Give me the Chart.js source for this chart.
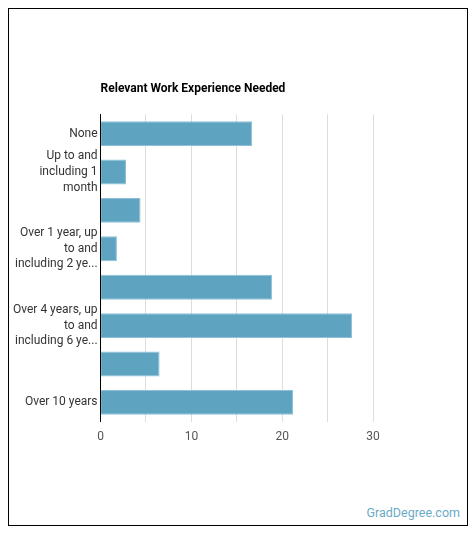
<!DOCTYPE html>
<html>
<head>
<meta charset="utf-8">
<script src="https://cdn.jsdelivr.net/npm/chart.js@4/dist/chart.umd.min.js"></script>
<style>
  body { margin: 8px; background: #fff; font-family: Roboto, sans-serif; }
  #box { position: relative; width: 460px; height: 518px; border: 1px solid #000; box-sizing: border-box; }
  #chartWrap { position: absolute; left: 0; top: 0; width: 458px; height: 443px; }
  #brand { position: absolute; right: 7px; bottom: 5px; font-size: 12.5px; color: #6aaac8; }
</style>
</head>
<body>
<div id="box">
  <div id="chartWrap"><canvas id="grafico"></canvas></div>
  <div id="brand">GradDegree.com</div>
</div>
<script>
// categorias (rótulos do eixo Y, algumas ficam em branco como no original)
const categorias = [
  'None',
  ['Up to and', 'including 1', 'month'],
  '',
  ['Over 1 year, up', 'to and', 'including 2 ye...'],
  '',
  ['Over 4 years, up', 'to and', 'including 6 ye...'],
  '',
  'Over 10 years'
];
// percentual de trabalhadores
const valores = [16.7, 2.8, 4.4, 1.8, 18.9, 27.7, 6.5, 21.2];
// rótulos do eixo X
const ticksX = [0, 10, 20, 30];

const ctx = document.getElementById('grafico').getContext('2d');

const config = {
  type: 'bar',
  data: {
    labels: categorias,
    datasets: [{
      data: valores,
      backgroundColor: '#5ea3c0',
      borderColor: '#8cc0d6',
      borderWidth: 1,
      barPercentage: 0.81,
      categoryPercentage: 0.8
    }]
  },
  options: {
    indexAxis: 'y',
    responsive: true,
    maintainAspectRatio: false,
    animation: false,
    layout: { padding: { left: 1, right: 94, top: 73, bottom: 0 } },
    scales: {
      x: {
        min: 0,
        max: 30,
        ticks: {
          stepSize: 5,
          color: '#555',
          padding: 8,
          font: { family: 'Roboto', size: 12 },
          callback: function(v) { return ticksX.includes(v) ? v : ''; }
        },
        grid: { color: '#dddddd', drawTicks: false },
        border: { display: false }
      },
      y: {
        ticks: { color: '#333', font: { family: 'Roboto', size: 12, lineHeight: 1.3 }, autoSkip: false },
        grid: { display: false, drawTicks: false },
        border: { display: true, color: '#000', width: 1 }
      }
    },
    plugins: {
      legend: { display: false },
      title: {
        display: true,
        text: 'Relevant Work Experience Needed',
        align: 'start',
        fullSize: false,
        color: '#000',
        font: { family: 'Roboto', size: 12, weight: 'bold' },
        padding: { top: 0, bottom: 18 }
      },
      tooltip: { enabled: false }
    }
  }
};

const grafico = new Chart(ctx, config);
</script>
</body>
</html>
